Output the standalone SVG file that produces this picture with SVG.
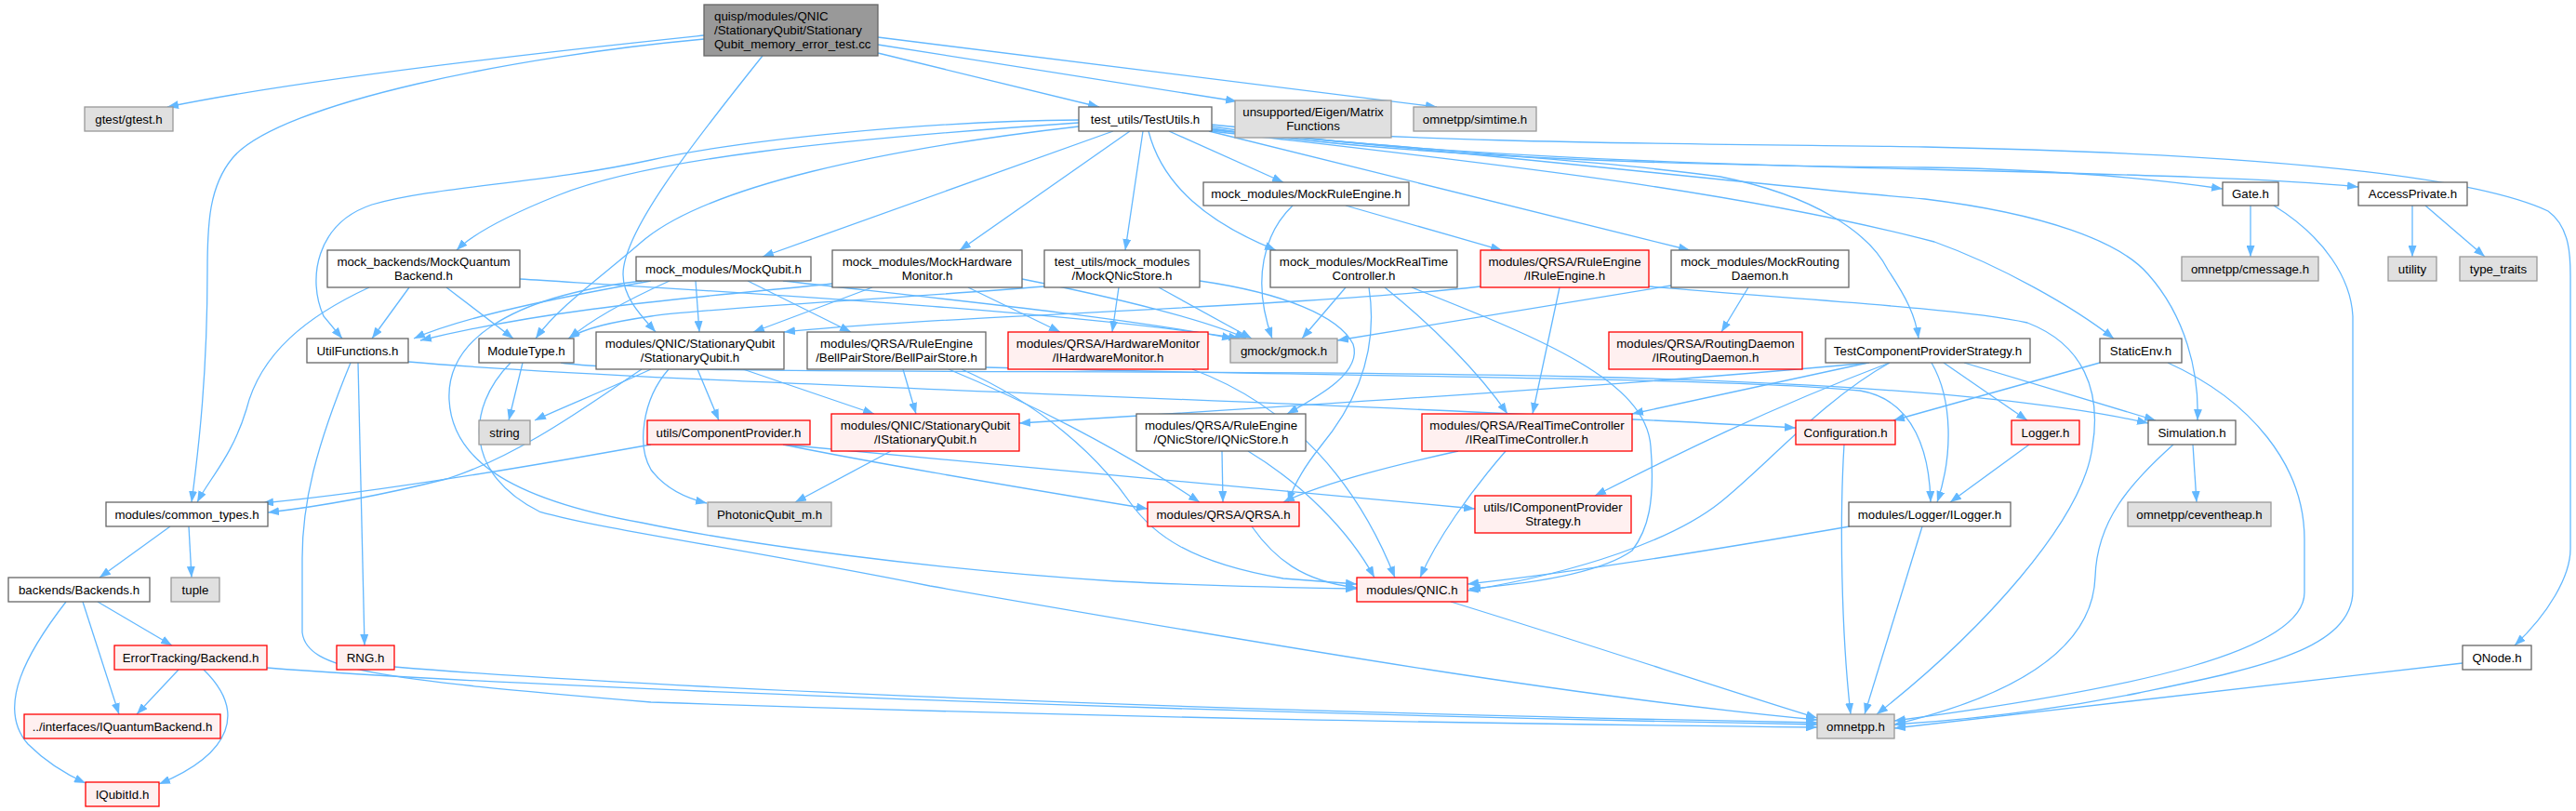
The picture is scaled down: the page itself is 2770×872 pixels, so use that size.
<svg xmlns="http://www.w3.org/2000/svg" width="2770" height="872" viewBox="0 0 2770 872">
<defs>
<marker id="ah" viewBox="0 0 12 9" markerWidth="12" markerHeight="9" refX="12" refY="4.5" markerUnits="userSpaceOnUse" orient="auto"><path d="M0,0 L12,4.5 L0,9 z" fill="#63b8ff"/></marker>
<style>
.e{fill:none;stroke:#63b8ff;stroke-width:1.3;marker-end:url(#ah)}
.n rect{fill:#ffffff;stroke:#666666;stroke-width:1.3}
.g rect{fill:#e0e0e0;stroke:#999999;stroke-width:1.3}
.r rect{fill:#fff0f0;stroke:#ff0000;stroke-width:1.3}
.m rect{fill:#999999;stroke:#666666;stroke-width:1.3}
text{font-family:"Liberation Sans",Arial,Helvetica,sans-serif;font-size:13.3px;fill:#000000;text-anchor:middle}
.m text{text-anchor:start}
</style>
</defs>
<rect width="2770" height="872" fill="#ffffff"/>
<g id="connectors">
<path class="e" d="M757,38 C700,44 350,80 180,115"/>
<path class="e" d="M757,42 C560,60 300,110 250,170 C225,200 223,240 223,290 C223,400 214,480 206,540"/>
<path class="e" d="M944,57 L1182,115"/>
<path class="e" d="M944,48 L1330,109"/>
<path class="e" d="M944,40 L1545,115"/>
<path class="e" d="M820,60 C740,160 670,250 670,295 C670,320 690,340 705,357"/>
<path class="e" d="M1160,129 C1000,130 800,150 700,172 C580,198 470,200 400,220 C340,240 330,300 348,340 L368,364"/>
<path class="e" d="M1160,132 C900,150 700,170 600,210 C550,230 510,250 491,269"/>
<path class="e" d="M1160,136 C950,160 760,200 690,260 C650,295 600,330 576,364"/>
<path class="e" d="M1197,141 L820,276"/>
<path class="e" d="M1215,141 L1032,269"/>
<path class="e" d="M1229,141 L1210,269"/>
<path class="e" d="M1235,141 C1250,200 1300,240 1372,269"/>
<path class="e" d="M1257,141 L1380,196"/>
<path class="e" d="M1300,141 L1817,269"/>
<path class="e" d="M1303,138 C1500,168 1800,178 2070,180 C2200,182 2300,190 2390,203"/>
<path class="e" d="M1303,136 C1500,165 1800,176 2070,182 C2300,188 2450,192 2536,201"/>
<path class="e" d="M1303,134 C1500,155 1900,155 2070,158 C2400,165 2650,185 2740,227 C2765,245 2764,280 2764,300 L2764,590 C2764,620 2740,660 2704,694"/>
<path class="e" d="M1303,140 C1600,165 1900,200 2070,214 C2200,230 2280,260 2310,295 C2350,340 2365,400 2363,452"/>
<path class="e" d="M1303,141 C1550,170 1850,200 2080,260 C2150,285 2230,330 2273,364"/>
<path class="e" d="M1303,139 C1500,160 1700,170 1850,190 C1950,210 2010,250 2030,290 C2050,320 2060,340 2063,364"/>
<path class="e" d="M1390,221 C1360,250 1345,300 1368,364"/>
<path class="e" d="M1447,221 L1615,269"/>
<path class="e" d="M2420,221 L2420,276"/>
<path class="e" d="M2445,221 C2500,255 2528,300 2530,340 L2530,635 C2530,700 2420,720 2300,745 C2200,765 2100,775 2037,779"/>
<path class="e" d="M2594,221 L2594,276"/>
<path class="e" d="M2608,221 L2672,276"/>
<path class="e" d="M397,309 C330,340 280,380 265,440 C250,490 225,515 212,540"/>
<path class="e" d="M440,309 L400,364"/>
<path class="e" d="M480,309 L552,364"/>
<path class="e" d="M559,300 C800,315 1150,335 1333,364"/>
<path class="e" d="M700,302 C600,320 500,340 445,364"/>
<path class="e" d="M720,302 C680,320 640,340 612,364"/>
<path class="e" d="M748,302 L752,357"/>
<path class="e" d="M804,302 L915,357"/>
<path class="e" d="M842,302 C1000,320 1200,340 1326,364"/>
<path class="e" d="M690,302 C540,320 480,370 483,430 C486,490 540,535 690,562 C800,585 1000,612 1200,625 C1300,630 1400,632 1459,633"/>
<path class="e" d="M895,305 C750,320 600,330 452,366"/>
<path class="e" d="M938,309 L810,357"/>
<path class="e" d="M1041,309 L1140,357"/>
<path class="e" d="M1099,300 C1200,320 1300,345 1340,364"/>
<path class="e" d="M1123,308 C950,322 750,332 700,340 C660,346 630,352 611,364"/>
<path class="e" d="M1203,309 L1196,357"/>
<path class="e" d="M1246,309 L1346,364"/>
<path class="e" d="M1290,302 C1380,315 1440,340 1455,370 C1465,400 1420,425 1384,445"/>
<path class="e" d="M1447,309 L1400,364"/>
<path class="e" d="M1489,309 C1540,350 1590,400 1621,445"/>
<path class="e" d="M1472,309 C1480,360 1470,420 1420,480 C1400,505 1390,525 1385,540"/>
<path class="e" d="M1518,309 C1660,365 1770,410 1775,480 C1780,540 1772,570 1755,592 C1720,617 1640,628 1580,633"/>
<path class="e" d="M1677,309 L1648,445"/>
<path class="e" d="M1592,308 C1400,330 1000,340 843,357"/>
<path class="e" d="M1773,308 C1900,320 2100,330 2180,347 C2240,370 2260,420 2250,480 C2240,560 2130,680 2018,768"/>
<path class="e" d="M1880,309 L1851,357"/>
<path class="e" d="M1797,307 L1438,366"/>
<path class="e" d="M700,397 C650,420 600,440 575,452"/>
<path class="e" d="M690,397 C640,430 560,490 480,515 C400,535 340,545 288,551"/>
<path class="e" d="M750,397 L773,452"/>
<path class="e" d="M799,397 L940,445"/>
<path class="e" d="M719,397 C690,430 685,480 700,505 C715,525 735,535 760,541"/>
<path class="e" d="M971,397 L985,445"/>
<path class="e" d="M1020,397 C1100,430 1200,480 1290,540"/>
<path class="e" d="M1034,397 C1120,435 1180,490 1215,540 C1240,575 1280,605 1380,622 L1459,628"/>
<path class="e" d="M1060,395 C1400,405 1850,405 2000,420 C2060,430 2075,490 2076,540"/>
<path class="e" d="M1282,397 C1390,437 1460,520 1500,621"/>
<path class="e" d="M1314,485 L1315,540"/>
<path class="e" d="M1342,485 C1400,520 1450,570 1478,621"/>
<path class="e" d="M1568,485 C1500,500 1420,520 1380,540"/>
<path class="e" d="M1619,485 C1580,530 1545,580 1527,621"/>
<path class="e" d="M700,478 C550,505 400,530 282,541"/>
<path class="e" d="M842,478 C950,500 1100,525 1234,547"/>
<path class="e" d="M842,478 C1000,495 1300,520 1586,547"/>
<path class="e" d="M958,485 L855,540"/>
<path class="e" d="M1346,566 C1370,600 1400,625 1459,632"/>
<path class="e" d="M2010,390 C1800,410 1500,430 1096,455"/>
<path class="e" d="M2009,390 L1755,445"/>
<path class="e" d="M2032,390 C1900,440 1800,490 1715,533"/>
<path class="e" d="M2032,390 C1960,430 1900,500 1850,540 C1800,580 1700,615 1578,635"/>
<path class="e" d="M2090,390 L2180,452"/>
<path class="e" d="M2112,390 L2318,452"/>
<path class="e" d="M2077,390 C2100,430 2100,490 2083,540"/>
<path class="e" d="M2258,390 C2150,420 2080,440 2036,452"/>
<path class="e" d="M2331,390 C2420,430 2478,500 2478,580 L2478,637 C2478,700 2300,740 2037,775"/>
<path class="e" d="M1983,478 C1978,560 1980,680 1990,768"/>
<path class="e" d="M2182,478 L2097,540"/>
<path class="e" d="M2358,478 L2362,540"/>
<path class="e" d="M2337,478 C2290,520 2255,560 2253,620 C2251,680 2200,740 2037,779"/>
<path class="e" d="M1989,566 C1850,590 1700,615 1578,628"/>
<path class="e" d="M2067,566 L2005,768"/>
<path class="e" d="M1560,647 C1700,690 1850,740 1954,772"/>
<path class="e" d="M2648,713 L2037,783"/>
<path class="e" d="M183,566 L107,621"/>
<path class="e" d="M203,566 L206,621"/>
<path class="e" d="M71,647 C30,700 -5,760 30,800 C50,820 70,832 92,842"/>
<path class="e" d="M89,647 L128,768"/>
<path class="e" d="M105,647 L185,694"/>
<path class="e" d="M192,720 L147,768"/>
<path class="e" d="M219,720 C265,765 250,810 171,843"/>
<path class="e" d="M287,718 C500,735 1200,765 1954,779"/>
<path class="e" d="M424,717 C700,740 1300,765 1954,777"/>
<path class="e" d="M439,389 C700,412 1400,430 1931,460"/>
<path class="e" d="M385,390 L392,694"/>
<path class="e" d="M377,390 C340,480 325,540 325,600 L325,680 C330,720 400,730 700,755 C1200,772 1600,778 1954,782"/>
<path class="e" d="M562,390 L547,452"/>
<path class="e" d="M603,390 C700,405 1300,395 1700,405 C2000,412 2200,430 2310,455"/>
<path class="e" d="M549,390 C500,440 500,510 580,550 C650,570 800,590 1000,630 C1400,700 1700,750 1954,774"/>
</g>
<g id="n_main" class="m"><rect x="757" y="5" width="187" height="55"/><text x="768" y="22">quisp/modules/QNIC</text><text x="768" y="37">/StationaryQubit/Stationary</text><text x="768" y="52">Qubit_memory_error_test.cc</text></g>
<g id="n_gtest" class="g"><rect x="91" y="115" width="95" height="26"/><text x="138.5" y="132.7">gtest/gtest.h</text></g>
<g id="n_testutils" class="n"><rect x="1160" y="115" width="143" height="26"/><text x="1231.5" y="132.7">test_utils/TestUtils.h</text></g>
<g id="n_eigen" class="g"><rect x="1328" y="108" width="168" height="40"/><text x="1412" y="125">unsupported/Eigen/Matrix</text><text x="1412" y="140">Functions</text></g>
<g id="n_simtime" class="g"><rect x="1520" y="115" width="132" height="26"/><text x="1586" y="132.7">omnetpp/simtime.h</text></g>
<g id="n_mockruleengine" class="n"><rect x="1294" y="196" width="221" height="25"/><text x="1404.5" y="213.2">mock_modules/MockRuleEngine.h</text></g>
<g id="n_gate" class="n"><rect x="2390" y="196" width="60" height="25"/><text x="2420" y="213.2">Gate.h</text></g>
<g id="n_accessprivate" class="n"><rect x="2536" y="196" width="117" height="25"/><text x="2594.5" y="213.2">AccessPrivate.h</text></g>
<g id="n_mockquantumbackend" class="n"><rect x="352" y="269" width="207" height="40"/><text x="455.5" y="286">mock_backends/MockQuantum</text><text x="455.5" y="301">Backend.h</text></g>
<g id="n_mockqubit" class="n"><rect x="684" y="276" width="188" height="26"/><text x="778" y="293.7">mock_modules/MockQubit.h</text></g>
<g id="n_mockhwmon" class="n"><rect x="895" y="269" width="204" height="40"/><text x="997" y="286">mock_modules/MockHardware</text><text x="997" y="301">Monitor.h</text></g>
<g id="n_mockqnicstore" class="n"><rect x="1123" y="269" width="167" height="40"/><text x="1206.5" y="286">test_utils/mock_modules</text><text x="1206.5" y="301">/MockQNicStore.h</text></g>
<g id="n_mockrtc" class="n"><rect x="1366" y="269" width="201" height="40"/><text x="1466.5" y="286">mock_modules/MockRealTime</text><text x="1466.5" y="301">Controller.h</text></g>
<g id="n_iruleengine" class="r"><rect x="1592" y="269" width="181" height="40"/><text x="1682.5" y="286">modules/QRSA/RuleEngine</text><text x="1682.5" y="301">/IRuleEngine.h</text></g>
<g id="n_mockrouting" class="n"><rect x="1797" y="269" width="191" height="40"/><text x="1892.5" y="286">mock_modules/MockRouting</text><text x="1892.5" y="301">Daemon.h</text></g>
<g id="n_cmessage" class="g"><rect x="2346" y="276" width="147" height="26"/><text x="2419.5" y="293.7">omnetpp/cmessage.h</text></g>
<g id="n_utility" class="g"><rect x="2568" y="276" width="52" height="26"/><text x="2594" y="293.7">utility</text></g>
<g id="n_typetraits" class="g"><rect x="2645" y="276" width="83" height="26"/><text x="2686.5" y="293.7">type_traits</text></g>
<g id="n_utilfunctions" class="n"><rect x="330" y="364" width="109" height="26"/><text x="384.5" y="381.7">UtilFunctions.h</text></g>
<g id="n_moduletype" class="n"><rect x="515" y="364" width="102" height="26"/><text x="566" y="381.7">ModuleType.h</text></g>
<g id="n_stationaryqubit" class="n"><rect x="641" y="357" width="202" height="40"/><text x="742" y="374">modules/QNIC/StationaryQubit</text><text x="742" y="389">/StationaryQubit.h</text></g>
<g id="n_bellpairstore" class="n"><rect x="868" y="357" width="192" height="40"/><text x="964" y="374">modules/QRSA/RuleEngine</text><text x="964" y="389">/BellPairStore/BellPairStore.h</text></g>
<g id="n_ihwmon" class="r"><rect x="1084" y="357" width="215" height="40"/><text x="1191.5" y="374">modules/QRSA/HardwareMonitor</text><text x="1191.5" y="389">/IHardwareMonitor.h</text></g>
<g id="n_gmock" class="g"><rect x="1323" y="364" width="115" height="26"/><text x="1380.5" y="381.7">gmock/gmock.h</text></g>
<g id="n_iroutingdaemon" class="r"><rect x="1730" y="357" width="208" height="40"/><text x="1834" y="374">modules/QRSA/RoutingDaemon</text><text x="1834" y="389">/IRoutingDaemon.h</text></g>
<g id="n_tcps" class="n"><rect x="1963" y="364" width="220" height="26"/><text x="2073" y="381.7">TestComponentProviderStrategy.h</text></g>
<g id="n_staticenv" class="n"><rect x="2258" y="364" width="88" height="26"/><text x="2302" y="381.7">StaticEnv.h</text></g>
<g id="n_string" class="g"><rect x="515" y="452" width="55" height="26"/><text x="542.5" y="469.7">string</text></g>
<g id="n_componentprovider" class="r"><rect x="696" y="452" width="175" height="26"/><text x="783.5" y="469.7">utils/ComponentProvider.h</text></g>
<g id="n_istationaryqubit" class="r"><rect x="894" y="445" width="202" height="40"/><text x="995" y="462">modules/QNIC/StationaryQubit</text><text x="995" y="477">/IStationaryQubit.h</text></g>
<g id="n_iqnicstore" class="n"><rect x="1222" y="445" width="182" height="40"/><text x="1313" y="462">modules/QRSA/RuleEngine</text><text x="1313" y="477">/QNicStore/IQNicStore.h</text></g>
<g id="n_irtc" class="r"><rect x="1529" y="445" width="226" height="40"/><text x="1642" y="462">modules/QRSA/RealTimeController</text><text x="1642" y="477">/IRealTimeController.h</text></g>
<g id="n_configuration" class="r"><rect x="1931" y="452" width="107" height="26"/><text x="1984.5" y="469.7">Configuration.h</text></g>
<g id="n_logger" class="r"><rect x="2163" y="452" width="73" height="26"/><text x="2199.5" y="469.7">Logger.h</text></g>
<g id="n_simulation" class="n"><rect x="2310" y="452" width="94" height="26"/><text x="2357" y="469.7">Simulation.h</text></g>
<g id="n_commontypes" class="n"><rect x="114" y="540" width="174" height="26"/><text x="201" y="557.7">modules/common_types.h</text></g>
<g id="n_photonic" class="g"><rect x="761" y="540" width="133" height="26"/><text x="827.5" y="557.7">PhotonicQubit_m.h</text></g>
<g id="n_qrsa" class="r"><rect x="1234" y="540" width="163" height="26"/><text x="1315.5" y="557.7">modules/QRSA/QRSA.h</text></g>
<g id="n_icps" class="r"><rect x="1586" y="533" width="168" height="40"/><text x="1670" y="550">utils/IComponentProvider</text><text x="1670" y="565">Strategy.h</text></g>
<g id="n_ilogger" class="n"><rect x="1988" y="540" width="174" height="26"/><text x="2075" y="557.7">modules/Logger/ILogger.h</text></g>
<g id="n_ceventheap" class="g"><rect x="2288" y="540" width="154" height="26"/><text x="2365" y="557.7">omnetpp/ceventheap.h</text></g>
<g id="n_backends" class="n"><rect x="9" y="621" width="152" height="26"/><text x="85" y="638.7">backends/Backends.h</text></g>
<g id="n_tuple" class="g"><rect x="184" y="621" width="52" height="26"/><text x="210" y="638.7">tuple</text></g>
<g id="n_qnic" class="r"><rect x="1459" y="621" width="119" height="26"/><text x="1518.5" y="638.7">modules/QNIC.h</text></g>
<g id="n_errortracking" class="r"><rect x="123" y="694" width="164" height="26"/><text x="205" y="711.7">ErrorTracking/Backend.h</text></g>
<g id="n_rng" class="r"><rect x="362" y="694" width="62" height="26"/><text x="393" y="711.7">RNG.h</text></g>
<g id="n_qnode" class="n"><rect x="2648" y="694" width="74" height="26"/><text x="2685" y="711.7">QNode.h</text></g>
<g id="n_iquantumbackend" class="r"><rect x="26" y="768" width="211" height="26"/><text x="131.5" y="785.7">../interfaces/IQuantumBackend.h</text></g>
<g id="n_omnetpp" class="g"><rect x="1954" y="768" width="83" height="26"/><text x="1995.5" y="785.7">omnetpp.h</text></g>
<g id="n_iqubitid" class="r"><rect x="92" y="841" width="79" height="26"/><text x="131.5" y="858.7">IQubitId.h</text></g>
</svg>
